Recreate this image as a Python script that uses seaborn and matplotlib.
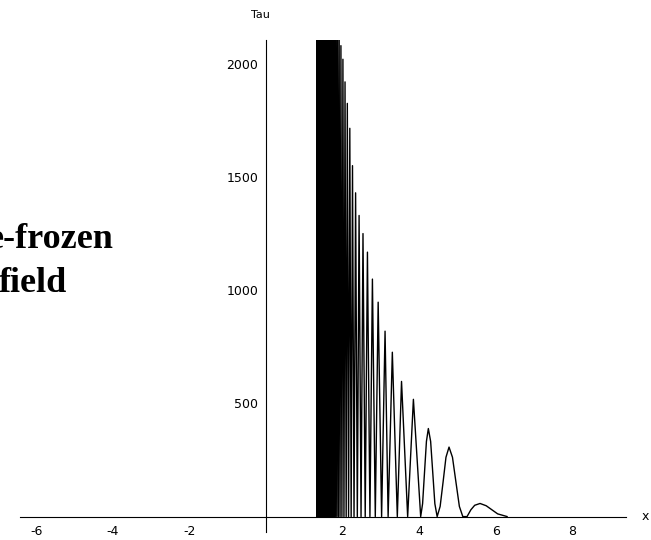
import matplotlib
matplotlib.use("Agg")
import matplotlib.pyplot as plt
import seaborn as sns
import pandas as pd
from matplotlib.ticker import FixedLocator, MultipleLocator

# ---- data ----
dense_peak_x = [1.335, 1.345, 1.355, 1.366, 1.377, 1.388, 1.400, 1.413, 1.426, 1.440,
                1.454, 1.469, 1.485, 1.502, 1.519, 1.537, 1.557, 1.577, 1.599, 1.622,
                1.646, 1.672, 1.700, 1.729, 1.761, 1.794, 1.831, 1.870, 1.912, 1.958,
                2.010, 2.065, 2.125, 2.190, 2.260, 2.341, 2.432, 2.534, 2.650, 2.780,
                2.930, 3.110, 3.300, 3.540, 3.850]
dense_peak_y = [3300, 3280, 3260, 3240, 3220, 3200, 3180, 3150, 3120, 3090,
                3060, 3030, 3000, 2960, 2920, 2880, 2840, 2800, 2750, 2700,
                2650, 2590, 2530, 2470, 2400, 2330, 2250, 2180, 2120, 2080,
                2020, 1920, 1825, 1715, 1550, 1430, 1330, 1250, 1168, 1049,
                947, 819, 726, 597, 518]
dense_trough_x = [1.330, 1.340, 1.350, 1.360, 1.371, 1.382, 1.394, 1.406, 1.419, 1.433,
                  1.447, 1.461, 1.477, 1.493, 1.510, 1.528, 1.547, 1.567, 1.588, 1.610,
                  1.634, 1.659, 1.686, 1.714, 1.745, 1.777, 1.812, 1.850, 1.891, 1.935,
                  1.984, 2.037, 2.095, 2.157, 2.225, 2.300, 2.386, 2.483, 2.592, 2.715,
                  2.855, 3.020, 3.190, 3.430, 3.700, 4.040]
tail_x = [4.090, 4.140, 4.190, 4.240, 4.300, 4.355, 4.410, 4.470,
          4.548, 4.625, 4.700, 4.780, 4.870, 4.960, 5.050, 5.140,
          5.250, 5.350, 5.450, 5.590, 5.750, 5.900, 6.050, 6.300]
tail_y = [57, 195, 332, 389, 332, 195, 57, 0,
          45, 153, 262, 307, 262, 153, 45, 0,
          0, 30, 50, 58, 48, 30, 12, 0]

x_major = [-6, -4, -2, 2, 4, 6, 8]
x_labels = ["-6", "-4", "-2", "2", "4", "6", "8"]
y_major = [500, 1000, 1500, 2000]
y_labels = ["500", "1000", "1500", "2000"]
side_text = ["e-frozen", "field"]

# ---- build curve from the arrays ----
xs, ys = [], []
for i in range(len(dense_peak_x)):
    xs.append(dense_trough_x[i]); ys.append(0)
    xs.append(dense_peak_x[i]); ys.append(dense_peak_y[i])
xs.append(dense_trough_x[-1]); ys.append(0)
xs += tail_x
ys += tail_y
df = pd.DataFrame({"x": xs, "Tau": ys})

sns.set_style("white")
plt.rcParams["font.family"] = ["DejaVu Sans"]
plt.rcParams["text.color"] = "black"

W, H = 651, 540
fig = plt.figure(figsize=(W / 100, H / 100), dpi=100)
ax = fig.add_axes([20 / W, 1 - 532 / H, 606 / W, (532 - 40) / H])

sns.lineplot(data=df, x="x", y="Tau", sort=False, estimator=None,
             color="black", lw=1.0, ax=ax)

ax.set_xlim(-6.42, 9.40)
ax.set_ylim(-68, 2105)
ax.set_xlabel("")
ax.set_ylabel("")

for s in ["top", "right"]:
    ax.spines[s].set_visible(False)
ax.spines["left"].set_position(("data", 0))
ax.spines["bottom"].set_position(("data", 0))
for s in ["left", "bottom"]:
    ax.spines[s].set_color("black")
    ax.spines[s].set_linewidth(0.8)

ax.xaxis.set_major_locator(FixedLocator(x_major))
ax.set_xticklabels(x_labels)
ax.xaxis.set_minor_locator(MultipleLocator(0.5))
ax.yaxis.set_major_locator(FixedLocator(y_major))
ax.set_yticklabels(y_labels)
ax.yaxis.set_minor_locator(MultipleLocator(100))

ax.tick_params(axis="both", which="major", direction="in", length=3.6,
               width=0.7, color="black", labelsize=9, labelcolor="black")
ax.tick_params(axis="both", which="minor", direction="in", length=2.0,
               width=0.7, color="black")
ax.tick_params(axis="x", which="major", pad=6)
ax.tick_params(axis="y", which="major", pad=5.5)

fig.text(260 / W, 1 - 15 / H, "Tau", fontsize=8, ha="center", va="center",
         color="black")
fig.text(645 / W, 1 - 517 / H, "x", fontsize=9, ha="center", va="center",
         color="black")

fig.text(-12 / W, 1 - 248 / H, side_text[0], fontfamily="Liberation Serif",
         fontweight="bold", fontsize=26, ha="left", va="baseline", color="black")
fig.text(-1 / W, 1 - 292 / H, side_text[1], fontfamily="Liberation Serif",
         fontweight="bold", fontsize=26, ha="left", va="baseline", color="black")

fig.savefig("out.png", dpi=100, facecolor="white")
